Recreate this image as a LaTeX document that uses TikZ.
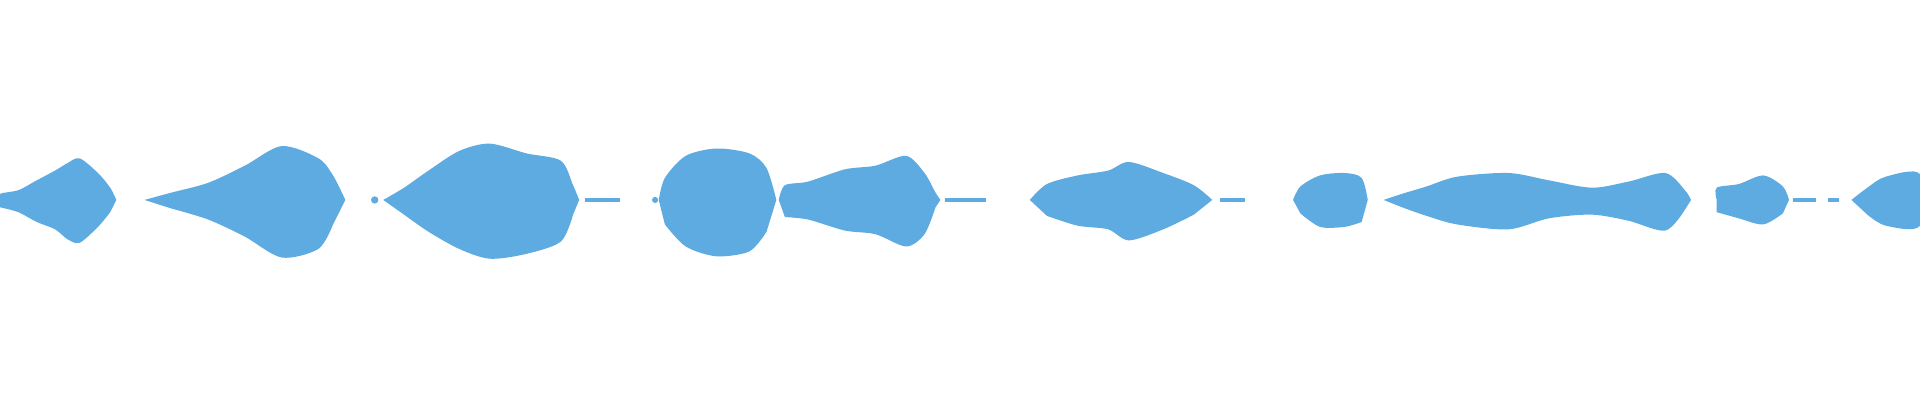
\documentclass[tikz,border=0pt]{standalone}
\definecolor{wavecol}{RGB}{94,171,226}
\tikzset{wave/.style={fill=wavecol}, flat/.style={draw=wavecol, line width=1.2pt}}
\begin{document}
\begin{tikzpicture}[x=0.12245mm,y=0.12245mm]
  \useasboundingbox (0,-163.3) rectangle (1568,163.3);
  % phrases
  \fill[wave] plot[smooth] coordinates {(0,0) (0,5) (15,8) (30,16) (45,24) (55,30) (65,34) (80,22) (90,10) (95,0)}
    -- plot[smooth] coordinates {(90,-10) (80,-22) (65,-35) (55,-32) (45,-24) (30,-18) (15,-10) (0,-6)} -- cycle;
  \fill[wave] plot[smooth] coordinates {(118,0) (140,6) (170,14) (200,28) (230,44) (260,34) (272,20) (282,0)}
    -- plot[smooth] coordinates {(272,-20) (260,-40) (230,-47) (200,-30) (170,-16) (140,-7)} -- cycle;
  \fill[wave] (306,0) circle (3);
  \fill[wave] plot[smooth] coordinates {(313,0) (330,10) (350,24) (375,40) (400,46) (430,38) (458,32) (468,12) (473,0)}
    -- plot[smooth] coordinates {(468,-12) (458,-34) (430,-44) (400,-48) (375,-40) (350,-26) (330,-12)} -- cycle;
  \draw[flat] (478,0) -- (506,0);
  \fill[wave] (535,0) circle (2.5);
  \fill[wave] plot[smooth] coordinates {(538,0) (543,18) (560,36) (585,42) (612,38) (626,26) (634,0)}
    -- plot[smooth] coordinates {(626,-26) (612,-42) (585,-46) (560,-38) (543,-20)} -- cycle;
  \fill[wave] plot[smooth] coordinates {(636,0) (641,12) (660,15) (690,25) (715,28) (740,36) (755,22) (764,6) (768,0)}
    -- plot[smooth] coordinates {(764,-6) (755,-28) (740,-38) (715,-28) (690,-25) (660,-16) (641,-14)} -- cycle;
  \draw[flat] (772,0) -- (805,0);
  \fill[wave] plot[smooth] coordinates {(841,0) (855,13) (880,20) (905,24) (922,31) (950,22) (975,12) (990,0)}
    -- plot[smooth] coordinates {(975,-12) (950,-24) (922,-33) (905,-24) (880,-21) (855,-13)} -- cycle;
  \draw[flat] (996,0) -- (1017,0);
  \fill[wave] plot[smooth] coordinates {(1056,0) (1062,11) (1078,20) (1098,22) (1112,18) (1117,0)}
    -- plot[smooth] coordinates {(1112,-18) (1098,-22) (1078,-22) (1062,-11)} -- cycle;
  \fill[wave] plot[smooth] coordinates {(1130,0) (1145,5) (1165,11) (1190,19) (1232,22) (1265,16) (1300,10) (1330,15) (1360,22) (1376,8) (1381,0)}
    -- plot[smooth] coordinates {(1376,-8) (1360,-25) (1330,-17) (1300,-12) (1265,-15) (1232,-24) (1190,-20) (1165,-13) (1145,-6)} -- cycle;
  \fill[wave] plot[smooth] coordinates {(1402,0) (1402,10) (1420,13) (1440,20) (1456,11) (1461,0)}
    -- plot[smooth] coordinates {(1456,-11) (1440,-20) (1420,-15) (1402,-10)} -- cycle;
  \draw[flat] (1464,0) -- (1483,0);
  \draw[flat] (1493,0) -- (1502,0);
  \fill[wave] plot[smooth] coordinates {(1512,0) (1525,10) (1540,19) (1568,21) (1568,-21) (1540,-21) (1525,-12)} -- cycle;
\end{tikzpicture}
\end{document}
